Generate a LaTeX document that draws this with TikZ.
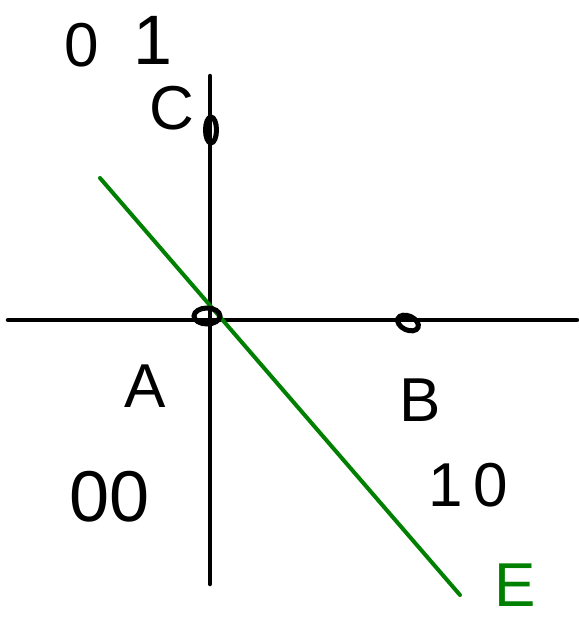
\documentclass[tikz,border=0pt]{standalone}
\usepackage{fontspec}
\setmainfont{Liberation Sans}
\usetikzlibrary{shapes.geometric}
\definecolor{pengreen}{RGB}{0,128,0}
\tikzset{
  ink/.style={line width=4.5pt, line cap=round, black},
  lbl/.style={font=\fontsize{62}{62}\selectfont, inner sep=0pt},
  pt/.style={draw, ellipse, line width=5pt, inner sep=0pt},
}
\begin{document}
\begin{tikzpicture}[x=1pt,y=-1pt]
\useasboundingbox (0,0) rectangle (579,633);
% axes
\coordinate (xl) at (8,320);
\coordinate (xr) at (577,320);
\coordinate (yt) at (210,76);
\coordinate (yb) at (210,584);
\draw[ink] (xl) -- (xr);
\draw[ink] (yt) -- (yb);
% green line
\coordinate (g1) at (100,178);
\coordinate (g2) at (460,595);
\draw[line width=4pt, line cap=round, pengreen] (g1) -- (g2);
% points
\node[pt, minimum width=26pt, minimum height=16pt] (A0) at (207,316) {};
\node[pt, minimum width=22pt, minimum height=14pt, rotate=-25] (Bp) at (408,323) {};
\node[pt, minimum width=11pt, minimum height=26pt] (Cp) at (211,130) {};
% labels
\node[lbl] (zero) at (82,45) {0};
\node[lbl, font=\fontsize{70}{70}\selectfont] (one) at (153,40) {1};
\node[lbl] (C) at (172,108) {C};
\node[lbl] (A) at (145,386) {A};
\node[lbl] (B) at (420,400) {B};
\node[lbl, font=\fontsize{72}{72}\selectfont] (AA) at (110,497) {00};
\node[lbl] (BB) at (468,485) {1\,0};
\node[lbl, text=pengreen] (E) at (515,585) {E};
\end{tikzpicture}
\end{document}
